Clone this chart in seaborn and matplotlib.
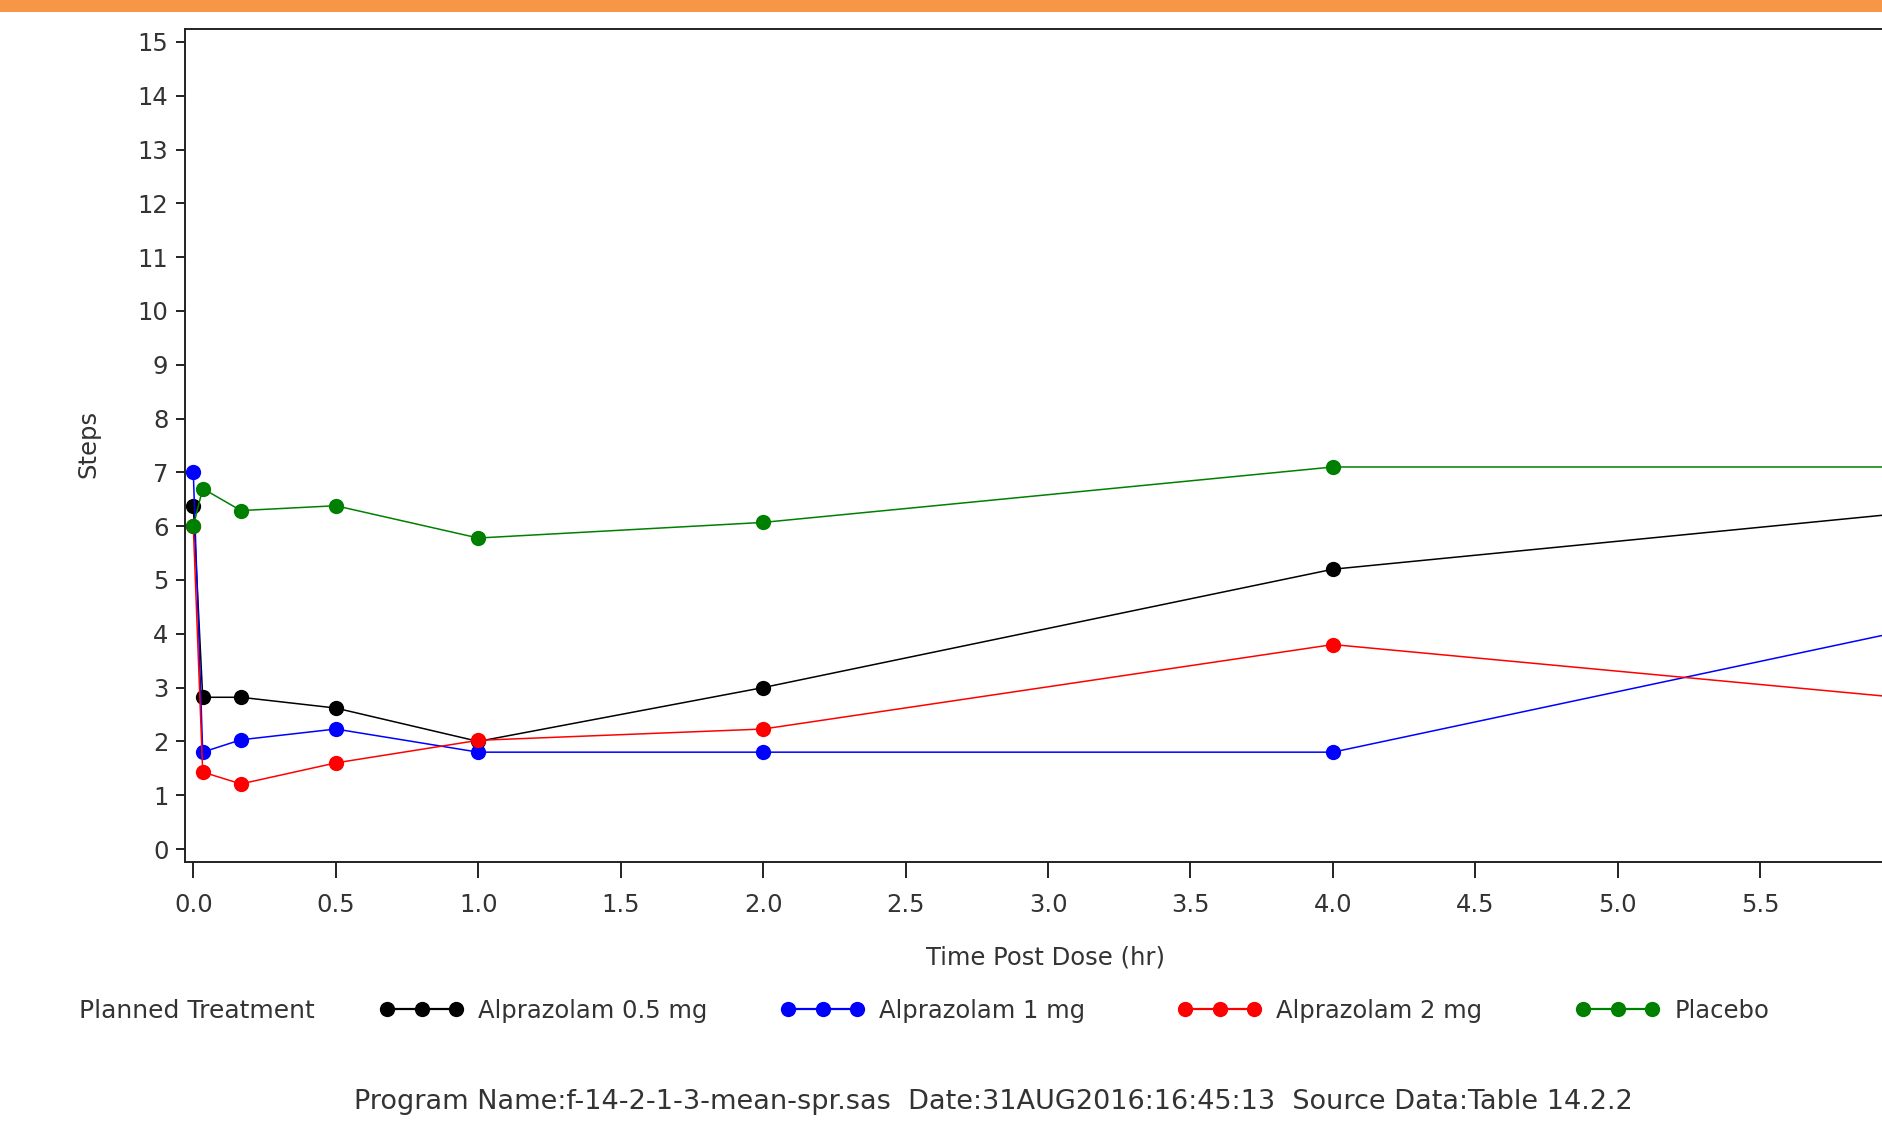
import matplotlib
matplotlib.use("Agg")
import matplotlib.pyplot as plt
from matplotlib.lines import Line2D
from matplotlib.patches import Rectangle
import numpy as np
import pandas as pd
import seaborn as sns

# Planned time points (hr) and mean step counts per treatment
times = [0.0, 0.033, 0.167, 0.5, 1.0, 2.0, 4.0, 6.0]
alp_05 = [6.38, 2.82, 2.82, 2.62, 2.0, 3.0, 5.2, 6.24]
alp_1 = [7.0, 1.8, 2.03, 2.23, 1.8, 1.8, 1.8, 4.05]
alp_2 = [6.0, 1.43, 1.21, 1.6, 2.02, 2.23, 3.8, 2.81]
placebo = [6.0, 6.7, 6.29, 6.38, 5.78, 6.07, 7.1, 7.1]

treatments = ["Alprazolam 0.5 mg", "Alprazolam 1 mg", "Alprazolam 2 mg", "Placebo"]
colors = ["#000000", "#0000FF", "#FF0000", "#008000"]
y_ticks = list(range(0, 16))
x_ticks = [0.0, 0.5, 1.0, 1.5, 2.0, 2.5, 3.0, 3.5, 4.0, 4.5, 5.0, 5.5, 6.0]
footnote = ("Program Name:f-14-2-1-3-mean-spr.sas  Date:31AUG2016:16:45:13  "
            "Source Data:Table 14.2.2")

df = pd.DataFrame({
    "time": times * 4,
    "steps": alp_05 + alp_1 + alp_2 + placebo,
    "trt": sum([[t] * len(times) for t in treatments], []),
})

sns.set_style("ticks")
plt.rcParams["font.family"] = ["DejaVu Sans"]
FS = 17.5
TXT = "#333333"

W, H = 1883, 1128
fig = plt.figure(figsize=(W / 100, H / 100), dpi=100)

# orange banner across the top of the page
fig.patches.append(Rectangle((0, 1 - 12 / H), 1, 12 / H, transform=fig.transFigure,
                             facecolor="#F79646", edgecolor="none", zorder=0))

ax = fig.add_axes([185.5 / W, (H - 861.5) / H, (1906.5 - 185.5) / W, 832.5 / H])

sns.lineplot(data=df, x="time", y="steps", hue="trt", hue_order=treatments,
             palette=colors, marker="o", markersize=11, markeredgewidth=0,
             linewidth=1.1, estimator=None, sort=False, legend=False, ax=ax)

ax.set_xlim(-0.0274, 6.0133)
ax.set_ylim(-0.232, 15.24)
ax.set_xticks(x_ticks)
ax.set_xticklabels([f"{v:.1f}" for v in x_ticks])
ax.set_yticks(y_ticks)
ax.set_yticklabels([str(v) for v in y_ticks])

for s in ax.spines.values():
    s.set_linewidth(1.4)
    s.set_color("#222222")

ax.tick_params(axis="y", length=6.5, width=1.4, pad=5.8, labelsize=FS,
               color="#222222", labelcolor=TXT)
ax.tick_params(axis="x", length=11.5, width=1.4, pad=11, labelsize=FS,
               color="#222222", labelcolor=TXT)

ax.set_xlabel("Time Post Dose (hr)", fontsize=FS, color=TXT)
ax.set_ylabel("Steps", fontsize=FS, color=TXT)
axw = 1906.5 - 185.5
ax.xaxis.set_label_coords(0.5, (861.5 - 957) / 832.5)
ax.xaxis.label.set_verticalalignment("center")
ax.yaxis.set_label_coords((88 - 185.5) / axw, (861.5 - 444) / 832.5)
ax.yaxis.label.set_verticalalignment("center")

# legend row: label followed by one entry per treatment
leg_y = 1 - 1011 / H
fig.text(79 / W, leg_y, "Planned Treatment", fontsize=FS + 0.5, color=TXT,
         ha="left", va="center")
pad_px = 0.3 * FS * 100 / 72
first_marker_x = [387, 788, 1185, 1583]
for name, col, mx in zip(treatments, colors, first_marker_x):
    h = Line2D([], [], color=col, marker="o", markersize=11, markeredgewidth=0,
               linewidth=1.6)
    fig.legend(handles=[h], labels=[name], loc="center left",
               bbox_to_anchor=((mx - pad_px) / W, leg_y), frameon=False,
               numpoints=3, handlelength=3.44, handletextpad=0.62,
               borderpad=0, borderaxespad=0, fontsize=FS, labelcolor=TXT)

fig.text(993 / W, 1 - 1102 / H, footnote, fontsize=19.5, color=TXT,
         ha="center", va="center")

fig.savefig("out.png", dpi=100)
